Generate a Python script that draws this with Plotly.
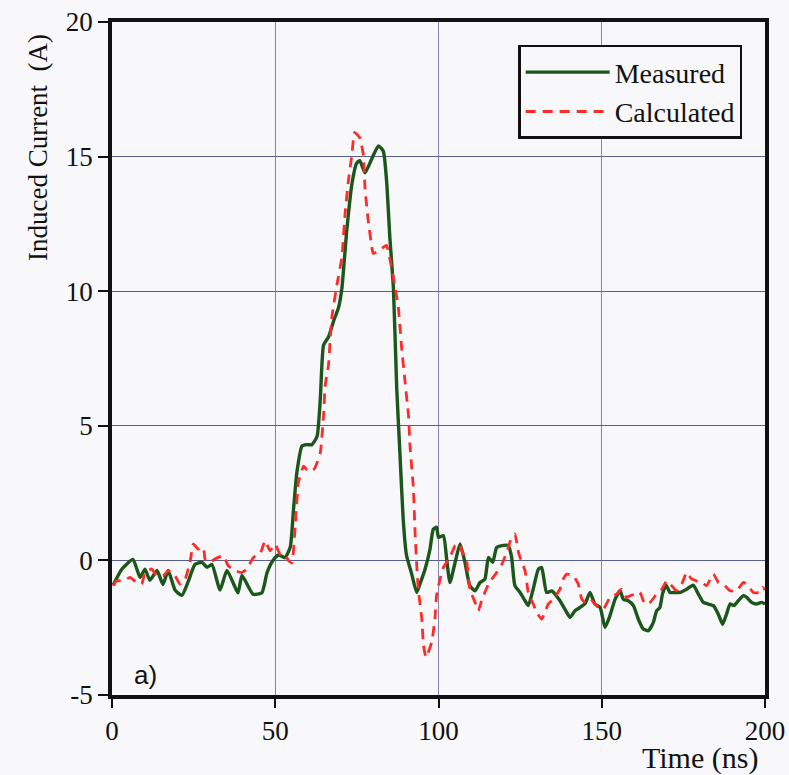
import plotly.graph_objects as go

# Measured (green, solid)
meas_t = [0.3, 3.0, 6.4, 8.6, 10.1, 11.6, 13.8, 15.6, 17.2, 19.3, 21.4, 23.3, 25.4, 27.6, 29.1, 30.6,
          33.1, 35.2, 38.6, 39.8, 43.2, 45.9, 47.5, 49.3, 51.0, 53.0, 54.6, 55.6, 56.6, 58.2, 59.7,
          61.2, 62.8, 63.8, 64.8, 66.3, 67.9, 69.4, 70.4, 71.9, 73.5, 74.9, 75.9, 77.5, 79.5, 81.6,
          83.1, 84.1, 85.1, 86.2, 87.2, 88.2, 89.2, 90.2, 91.8, 93.3, 94.3, 95.9, 97.4, 98.4, 99.4,
          100.0, 101.5, 102.5, 103.5, 105.1, 106.6, 108.1, 109.6, 111.2, 112.7, 114.2, 115.3, 116.6,
          117.8, 119.4, 121.4, 122.4, 123.4, 125.0, 126.5, 127.5, 129.0, 130.6, 131.6, 133.1, 134.7,
          135.7, 137.2, 138.7, 140.3, 141.8, 143.3, 144.9, 146.4, 147.9, 149.5, 151.0, 152.5, 154.1,
          155.6, 156.6, 158.1, 159.7, 161.2, 162.7, 164.3, 165.8, 166.8, 167.8, 168.6, 169.7, 170.9,
          172.4, 174.0, 176.0, 178.0, 179.6, 181.1, 182.6, 184.2, 185.7, 187.0, 188.2, 189.3, 190.5,
          191.8, 193.4, 194.4, 195.9, 197.4, 199.0, 200.0]
meas_i = [-0.93, -0.33, 0.04, -0.63, -0.33, -0.74, -0.37, -0.9, -0.37, -1.1, -1.3, -0.8, -0.15, -0.07,
          -0.26, -0.15, -1.1, -0.37, -1.2, -0.56, -1.26, -1.2, -0.45, 0.0, 0.2, 0.1, 0.5, 1.9, 3.25,
          4.25, 4.3, 4.3, 4.6, 6.0, 8.0, 8.3, 8.9, 9.4, 10.1, 12.25, 14.0, 14.75, 14.85, 14.4, 14.9,
          15.4, 15.2, 14.1, 12.0, 10.1, 6.4, 3.95, 1.5, 0.19, -0.51, -1.19, -0.88, -0.32, 0.42, 1.16,
          1.23, 0.86, 0.92, 0.05, -0.82, -0.07, 0.61, -0.07, -0.94, -1.13, -0.82, -0.7, 0.11, -0.07,
          0.48, 0.55, 0.55, 0.11, -0.94, -1.19, -1.5, -1.68, -1.07, -0.32, -0.26, -1.19, -1.13,
          -1.25, -1.5, -1.81, -2.12, -1.87, -1.75, -1.6, -1.19, -1.62, -1.75, -2.49, -2.06, -1.44,
          -1.13, -1.44, -1.5, -1.68, -2.18, -2.55, -2.61, -2.3, -1.87, -1.75, -1.25, -0.92, -1.19,
          -1.19, -1.19, -1.07, -0.92, -1.25, -1.56, -1.62, -1.68, -2.0, -2.37, -2.0, -1.62, -1.68,
          -1.5, -1.31, -1.37, -1.56, -1.62, -1.56, -1.62]

# Calculated (red, dashed)
calc_t = [0.3, 1.4, 3.5, 5.5, 7.6, 9.1, 10.1, 12.2, 13.7, 15.7, 17.3, 19.3, 20.8, 22.4, 23.9, 24.9,
          26.4, 28.0, 28.5, 30.0, 31.5, 34.1, 35.6, 37.7, 39.7, 41.3, 43.3, 45.3, 46.9, 48.4, 49.9,
          51.5, 53.0, 54.0, 55.1, 56.1, 57.1, 58.7, 60.2, 62.0, 63.8, 64.8, 65.3, 66.3, 67.3, 68.9,
          70.4, 71.4, 72.4, 73.5, 74.3, 75.9, 77.0, 77.5, 78.5, 79.5, 80.0, 81.6, 84.1, 85.1, 86.2,
          87.7, 88.7, 89.7, 90.8, 91.3, 92.3, 92.8, 93.3, 93.8, 94.9, 95.4, 96.2, 97.9, 98.9, 99.4,
          100.5, 101.5, 103.5, 105.1, 106.6, 107.1, 108.6, 109.6, 111.2, 112.2, 113.2, 114.2, 115.3,
          117.8, 119.4, 120.9, 122.4, 123.4, 124.5, 125.5, 126.5, 127.5, 129.0, 130.1, 131.6, 132.6,
          133.6, 135.2, 137.2, 138.2, 139.3, 141.3, 142.8, 143.9, 145.4, 146.9, 149.0, 150.5, 152.5,
          154.6, 156.1, 157.6, 158.7, 160.2, 161.7, 163.2, 164.8, 166.8, 168.4, 169.9, 171.4, 172.9,
          174.5, 176.0, 177.5, 179.0, 180.6, 182.1, 184.2, 185.7, 187.7, 189.3, 191.3, 193.4, 194.9,
          196.4, 198.5, 199.3, 200.0]
calc_i = [-0.93, -0.76, -0.76, -0.63, -0.82, -0.88, -0.45, -0.32, -0.57, -0.57, -0.38, -0.57, -0.88,
          -0.7, -0.07, 0.61, 0.42, 0.48, 0.05, -0.07, 0.05, 0.17, -0.2, -0.38, -0.45, -0.32, 0.11,
          0.23, 0.73, 0.36, 0.61, 0.23, 0.23, 0.0, -0.1, 1.25, 2.9, 3.5, 3.3, 3.4, 4.0, 5.4, 6.5,
          7.25, 9.0, 10.25, 11.25, 12.9, 14.1, 15.1, 15.9, 15.7, 15.06, 13.8, 12.6, 11.7, 11.4, 11.5,
          11.7, 11.2, 10.5, 9.4, 7.9, 6.7, 5.4, 4.2, 2.7, 1.1, -0.1, -1.07, -2.18, -3.17, -3.6,
          -3.05, -2.18, -1.31, -0.69, -0.26, 0.11, 0.55, 0.61, 0.36, -0.01, -1.07, -1.56, -1.87,
          -1.5, -1.19, -0.88, -0.45, -0.14, 0.3, 0.86, 0.98, 0.3, -0.07, -0.38, -1.19, -1.62, -1.93,
          -2.18, -1.93, -1.62, -1.44, -1.07, -0.7, -0.51, -0.57, -0.88, -1.44, -1.62, -1.5, -1.75,
          -1.81, -1.38, -1.25, -1.07, -1.38, -1.31, -1.25, -1.19, -1.62, -1.56, -1.25, -1.07, -0.76,
          -0.94, -1.13, -0.88, -0.45, -0.69, -0.76, -0.82, -0.94, -0.51, -0.82, -0.94, -1.13, -1.13,
          -0.82, -0.94, -1.19, -1.19, -1.0, -1.1]

x_ticks = [0, 50, 100, 150, 200]
y_ticks = [-5, 0, 5, 10, 15, 20]

BG = "#f8f8fa"
SERIF = "Liberation Serif, Times New Roman, serif"

fig = go.Figure()
fig.add_trace(go.Scatter(x=meas_t, y=meas_i, mode="lines", name="Measured",
                         line=dict(color="#1b561b", width=3.4, shape="spline", smoothing=0.5)))
fig.add_trace(go.Scatter(x=calc_t, y=calc_i, mode="lines", name="Calculated",
                         line=dict(color="#ff2a2a", width=2.8, dash="10px,7px", shape="spline", smoothing=0.4)))

fig.update_layout(
    width=789, height=775,
    margin=dict(l=112, r=24, t=22, b=80, autoexpand=False),
    paper_bgcolor=BG, plot_bgcolor=BG,
    font=dict(family=SERIF, color="#111111", size=26),
    showlegend=True,
    legend=dict(x=0.622, y=0.966, xanchor="left", yanchor="top",
                bgcolor=BG, bordercolor="#111111", borderwidth=2.5,
                font=dict(family=SERIF, size=28, color="#111111"),
                itemwidth=84, tracegroupgap=0),
    xaxis=dict(range=[0, 200], tickvals=x_ticks, ticktext=[str(v) for v in x_ticks],
               automargin=False,
               showline=True, linecolor="#111111", linewidth=3.5, mirror=True,
               ticks="outside", ticklen=9, tickwidth=2, tickcolor="#111111",
               showgrid=True, gridcolor="#8e7fb2", gridwidth=1, zeroline=False,
               tickfont=dict(family=SERIF, size=27)),
    yaxis=dict(range=[-5, 20], tickvals=y_ticks, ticktext=[str(v) for v in y_ticks],
               automargin=False,
               showline=True, linecolor="#111111", linewidth=3.5, mirror=True,
               ticks="outside", ticklen=10, tickwidth=2, tickcolor="#111111",
               showgrid=True, gridcolor="#55608f", gridwidth=1, zeroline=False,
               tickfont=dict(family=SERIF, size=27)),
    annotations=[
        dict(text="Induced Current  (A)", textangle=-90, xref="paper", yref="paper",
             x=-0.113, y=0.813, xanchor="center", yanchor="middle", showarrow=False,
             font=dict(family=SERIF, size=27)),
        dict(text="Time (ns)", xref="paper", yref="paper", x=0.9, y=-0.094,
             xanchor="center", yanchor="middle", showarrow=False,
             font=dict(family=SERIF, size=30)),
        dict(text="a)", xref="paper", yref="paper", x=0.031, y=0.03,
             xanchor="left", yanchor="middle", showarrow=False,
             font=dict(family="Liberation Sans, Arial, sans-serif", size=26)),
    ],
)

fig.write_html("out.html")
